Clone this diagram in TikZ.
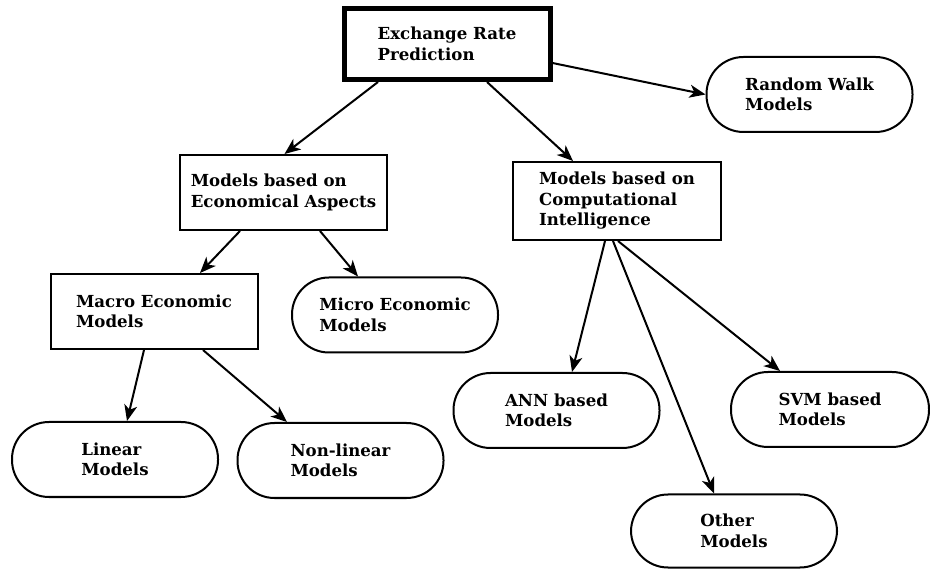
\documentclass[tikz,border=0pt]{standalone}
\usepackage{fontspec}
\setmainfont{DejaVu Serif}
\usepackage{tikz}
\usetikzlibrary{arrows.meta}

\begin{document}
\begin{tikzpicture}[x=1pt,y=-1pt,
  every node/.style={font=\fontsize{16.6}{20.5}\selectfont\bfseries, align=left, line width=2pt},
  boxnode/.style={draw, rectangle, minimum width=207pt, minimum height=75pt, inner sep=0pt},
  pillnode/.style={draw, rectangle, rounded corners=37pt, minimum width=206pt, minimum height=75pt, inner sep=0pt},
  arr/.style={-{Stealth[length=16pt,width=13pt,inset=4.5pt]}, line width=2pt}]
\useasboundingbox (0,0) rectangle (930,569);
% Top
\node[boxnode, line width=5pt, minimum width=206pt, minimum height=71pt] (exch) at (447,44) {Exchange Rate\\Prediction};
\node[pillnode] (walk) at (809.5,94.5) {Random Walk\\Models};
% Economical branch
\node[boxnode] (econ) at (283.5,192.5) {Models based on\\Economical Aspects};
\node[boxnode] (macro) at (154,311.5) {Macro Economic\\Models};
\node[pillnode] (micro) at (395,315) {Micro Economic\\Models};
\node[pillnode] (linear) at (115,459.5) {Linear\\Models};
\node[pillnode] (nonlin) at (340.5,460.5) {Non-linear\\Models};
% Computational branch
\node[boxnode, minimum width=208pt, minimum height=78pt] (comp) at (617,201) {Models based on\\Computational\\Intelligence};
\node[pillnode] (ann) at (556.5,410.5) {ANN based\\Models};
\node[pillnode, minimum width=198pt] (svm) at (830,409.5) {SVM based\\Models};
\node[pillnode, minimum width=206pt, minimum height=73pt] (other) at (734,531) {Other\\Models};
% Arrows
\draw[arr] ([xshift=-69pt]exch.south) -- ([xshift=1pt]econ.north);
\draw[arr] ([xshift=40pt]exch.south) -- ([xshift=-44pt]comp.north);
\draw[arr] ([yshift=-19pt]exch.east) -- (walk.west);
\draw[arr] ([xshift=-43.5pt]econ.south) -- ([xshift=46pt]macro.north);
\draw[arr] ([xshift=36.5pt]econ.south) -- ([xshift=-37pt]micro.north);
\draw[arr] ([xshift=-10pt]macro.south) -- ([xshift=12pt]linear.north);
\draw[arr] ([xshift=49pt]macro.south) -- ([xshift=-53.5pt]nonlin.north);
\draw[arr] ([xshift=-12pt]comp.south) -- ([xshift=15.5pt]ann.north);
\draw[arr] ([xshift=-4pt]comp.south) -- ([xshift=-20pt]other.north);
\draw[arr] ([xshift=1pt]comp.south) -- ([xshift=-50pt]svm.north);
\end{tikzpicture}
\end{document}
